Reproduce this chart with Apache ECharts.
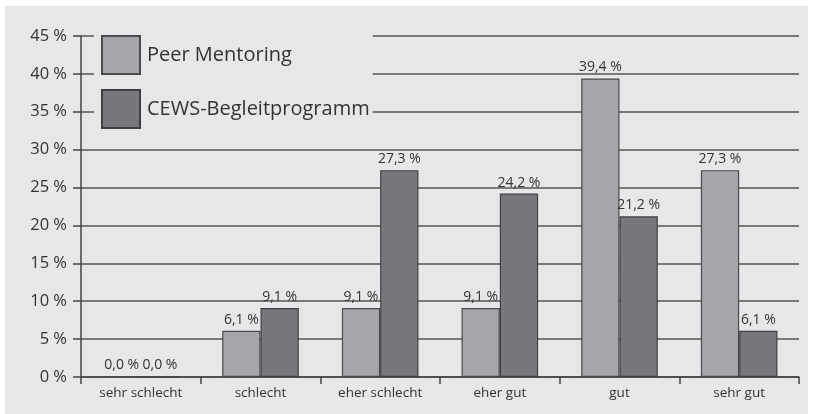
<!DOCTYPE html>
<html><head><meta charset="utf-8">
<script src="https://cdn.jsdelivr.net/npm/echarts@6/dist/echarts.min.js"></script>
<style>html,body{margin:0;padding:0;background:#fff}#c{position:absolute;left:5px;top:6px;width:803px;height:408px;background:#e6e7e9}</style>
</head><body><div id="c"></div>
<script>
const categories = ['sehr schlecht','schlecht','eher schlecht','eher gut','gut','sehr gut'];
const peerMentoring = [0.0, 6.1, 9.1, 9.1, 39.4, 27.3];
const cewsProgramm = [0.0, 9.1, 27.3, 24.2, 21.2, 6.1];
const seriesNames = ['Peer Mentoring','CEWS-Begleitprogramm'];
const fontFam = '"Open Sans", "Noto Sans", sans-serif';
const chart = echarts.init(document.getElementById('c'));
const fmt = p => p.value.toFixed(1).replace('.', ',') + ' %';
chart.setOption({
  backgroundColor: '#e6e7e9',
  animation: false,
  grid: {left: 76, right: 9, top: 30, bottom: 37},
  legend: {
    orient: 'vertical', left: 89, top: 23,
    itemWidth: 38, itemHeight: 38, itemGap: 14,
    icon: 'rect',
    padding: [6, 3, 6, 7],
    backgroundColor: '#e6e7e9',
    textStyle: {fontFamily: fontFam, fontSize: 20, color: '#333', padding: [0,0,0,2]},
    data: seriesNames
  },
  xAxis: {
    type: 'category', data: categories,
    axisLine: {lineStyle: {color: '#444', width: 1.5}},
    axisTick: {show: true, length: 7, lineStyle: {color: '#444', width: 1.5}},
    axisLabel: {fontFamily: fontFam, fontSize: 13.5, color: '#333', margin: 9}
  },
  yAxis: {
    type: 'value', min: 0, max: 45, interval: 5,
    axisLine: {show: true, lineStyle: {color: '#444', width: 1.5}},
    axisTick: {show: true, length: 8, lineStyle: {color: '#444', width: 1.5}},
    splitLine: {lineStyle: {color: '#555', width: 1.5}},
    axisLabel: {fontFamily: fontFam, fontSize: 16.5, color: '#333', margin: 14, formatter: '{value} %'}
  },
  series: [
    {name: seriesNames[0], type: 'bar', data: peerMentoring, barGap: '0%', barCategoryGap: '36%',
     itemStyle: {color: '#a5a6aa', borderColor: '#4a4a4c', borderWidth: 1.2},
     label: {show: true, position: 'top', formatter: fmt, fontFamily: fontFam, fontSize: 14, color: '#333', distance: 4}},
    {name: seriesNames[1], type: 'bar', data: cewsProgramm,
     itemStyle: {color: '#77787c', borderColor: '#3f3f41', borderWidth: 1.2},
     label: {show: true, position: 'top', formatter: fmt, fontFamily: fontFam, fontSize: 14, color: '#333', distance: 4}}
  ]
});
</script></body></html>
